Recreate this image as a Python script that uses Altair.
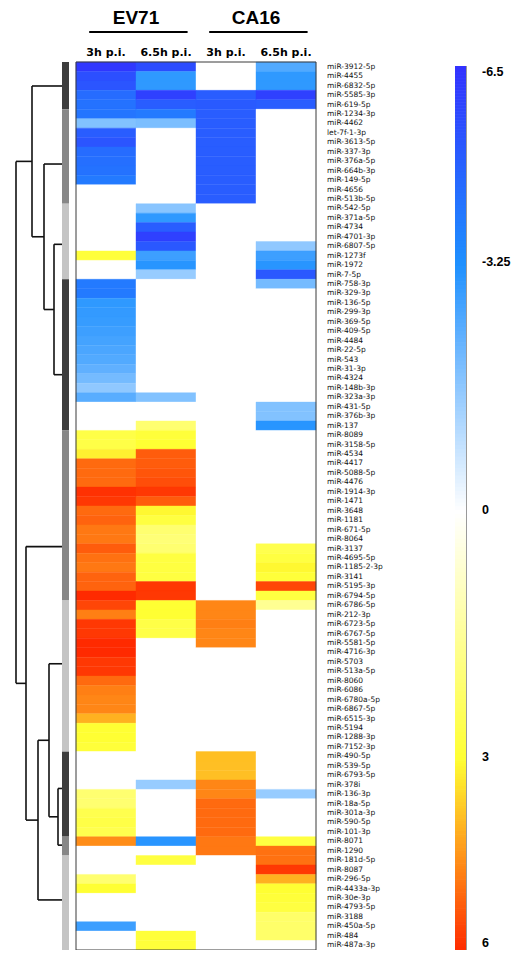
import altair as alt
import pandas as pd

# ---------------- data ----------------
mirnas = [
    "miR-3912-5p", "miR-4455", "miR-6832-5p", "miR-5585-3p", "miR-619-5p", "miR-1234-3p",
    "miR-4462", "let-7f-1-3p", "miR-3613-5p", "miR-337-3p", "miR-376a-5p", "miR-664b-3p",
    "miR-149-5p", "miR-4656", "miR-513b-5p", "miR-542-5p", "miR-371a-5p", "miR-4734",
    "miR-4701-3p", "miR-6807-5p", "miR-1273f", "miR-1972", "miR-7-5p", "miR-758-3p",
    "miR-329-3p", "miR-136-5p", "miR-299-3p", "miR-369-5p", "miR-409-5p", "miR-4484",
    "miR-22-5p", "miR-543", "miR-31-3p", "miR-4324", "miR-148b-3p", "miR-323a-3p",
    "miR-431-5p", "miR-376b-3p", "miR-137", "miR-8089", "miR-3158-5p", "miR-4534",
    "miR-4417", "miR-5088-5p", "miR-4476", "miR-1914-3p", "miR-1471", "miR-3648",
    "miR-1181", "miR-671-5p", "miR-8064", "miR-3137", "miR-4695-5p", "miR-1185-2-3p",
    "miR-3141", "miR-5195-3p", "miR-6794-5p", "miR-6786-5p", "miR-212-3p", "miR-6723-5p",
    "miR-6767-5p", "miR-5581-5p", "miR-4716-3p", "miR-5703", "miR-513a-5p", "miR-8060",
    "miR-6086", "miR-6780a-5p", "miR-6867-5p", "miR-6515-3p", "miR-5194", "miR-1288-3p",
    "miR-7152-3p", "miR-490-5p", "miR-539-5p", "miR-6793-5p", "miR-378i", "miR-136-3p",
    "miR-18a-5p", "miR-301a-3p", "miR-590-5p", "miR-101-3p", "miR-8071", "miR-1290",
    "miR-181d-5p", "miR-8087", "miR-296-5p", "miR-4433a-3p", "miR-30e-3p", "miR-4793-5p",
    "miR-3188", "miR-450a-5p", "miR-484", "miR-487a-3p",
]

ev71_3h = [
    -6.3, -5.5, -5.3, -4.5, -4.3, -4.2, -1.8, -5.0, -5.3, -4.5, -4.4, -4.3,
    -4.0, 0, 0, 0, 0, 0, 0, 0, 2.9, 0, 0, -4.0,
    -4.0, -3.0, -2.95, -2.9, -2.8, -2.7, -2.6, -2.5, -2.3, -2.0, -1.6, -2.4,
    0, 0, 0, 2.7, 2.7, 3.2, 5.1, 5.1, 5.1, 5.9, 5.8, 5.1,
    5.2, 4.9, 4.9, 5.3, 5.0, 4.9, 5.2, 5.2, 6.0, 5.6, 4.8, 5.8,
    5.8, 6.0, 6.0, 5.8, 5.8, 5.1, 4.8, 4.7, 4.7, 4.1, 3.0, 3.0,
    2.9, 0, 0, 0, 0, 2.1, 2.1, 2.6, 2.7, 2.6, 4.6, 0,
    0, 0, 2.1, 3.0, 0, 0, 0, -2.8, 0, 0,
]
ev71_65h = [
    -5.6, -3.0, -3.0, -6.0, -5.0, -4.0, -1.9, 0, 0, 0, 0, 0,
    0, 0, 0, -1.7, -3.0, -5.0, -6.0, -5.2, -2.8, -3.1, -1.5, 0,
    0, 0, 0, 0, 0, 0, 0, 0, 0, 0, 0, -1.8,
    0, 0, 2.1, 2.9, 3.0, 5.3, 5.3, 5.4, 5.5, 5.8, 5.3, 3.1,
    2.8, 2.1, 2.0, 2.1, 2.8, 2.8, 2.8, 5.8, 5.8, 3.0, 3.0, 2.7,
    2.7, 0, 0, 0, 0, 0, 0, 0, 0, 0, 0, 0,
    0, 0, 0, 0, -1.5, 0, 0, 0, 0, 0, -3.1, 0,
    2.8, 0, 0, 0, 0, 0, 0, 0, 2.9, 2.9,
]
ca16_3h = [
    0, 0, 0, -5.0, -5.1, -5.0, -5.0, -5.0, -5.0, -5.0, -5.0, -5.0,
    -5.0, -5.0, -5.0, 0, 0, 0, 0, 0, 0, 0, 0, 0,
    0, 0, 0, 0, 0, 0, 0, 0, 0, 0, 0, 0,
    0, 0, 0, 0, 0, 0, 0, 0, 0, 0, 0, 0,
    0, 0, 0, 0, 0, 0, 0, 0, 0, 4.7, 4.7, 4.8,
    4.7, 4.7, 0, 0, 0, 0, 0, 0, 0, 0, 0, 0,
    0, 3.9, 3.9, 3.9, 4.7, 4.7, 5.1, 5.1, 5.1, 5.1, 4.9, 4.9,
    0, 0, 0, 0, 0, 0, 0, 0, 0, 0,
]
ca16_65h = [
    -2.5, -3.0, -3.0, -6.0, -5.0, 0, 0, 0, 0, 0, 0, 0,
    0, 0, 0, 0, 0, 0, 0, -1.6, -2.8, -3.1, -5.2, -2.0,
    0, 0, 0, 0, 0, 0, 0, 0, 0, 0, 0, 0,
    -1.8, -1.8, -3.1, 0, 0, 0, 0, 0, 0, 0, 0, 0,
    0, 0, 0, 2.6, 2.8, 3.1, 2.9, 5.6, 2.8, 1.6, 0, 0,
    0, 0, 0, 0, 0, 0, 0, 0, 0, 0, 0, 0,
    0, 0, 0, 0, 0, -1.5, 0, 0, 0, 0, 2.8, 5.0,
    5.0, 5.8, 4.1, 3.0, 2.9, 2.8, 2.2, 2.2, 2.2, 0,
]

conditions = ["3h p.i.", "6.5h p.i.", "3h p.i.", "6.5h p.i."]
viruses = ["EV71", "CA16"]
virus_first_col = [0, 2]
virus_last_col = [1, 3]

# row clusters (leaf groups of the dendrogram)
cluster_first = [0, 5, 15, 23, 39, 57, 73, 82, 84]
cluster_last = [4, 14, 22, 38, 56, 72, 81, 83, 93]
cluster_shade = ["#3d3d3d", "#878787", "#c4c4c4", "#3d3d3d", "#878787",
                 "#c4c4c4", "#3d3d3d", "#878787", "#c4c4c4"]
cluster_anchor = [2.54, 10.8, 19.3, 33.1, 51.3, 63.7, 76.9, 82.9, 88.7]
# merges: left node, right node, merge height (nodes 0-8 are clusters)
merge_left = [6, 5, 10, 4, 2, 1, 0, 15]
merge_right = [7, 9, 8, 11, 3, 13, 14, 12]
merge_height = [4, 13, 24, 36, 8, 18, 30, 46]

scale_stops = [-6.5, -3.25, 0, 3, 6]
scale_colors = ["#3232ff", "#1e90ff", "#ffffff", "#ffff33", "#ff2a00"]
scale_labels = ["-6.5", "-3.25", "0", "3", "6"]

# ---------------- tables ----------------
n = len(mirnas)
series = [ev71_3h, ev71_65h, ca16_3h, ca16_65h]
cells = pd.DataFrame([
    {"row": r, "col": c, "value": series[c][r], "mirna": mirnas[r]}
    for c in range(len(series)) for r in range(n)
])
labels_df = pd.DataFrame({"mirna": mirnas, "row": list(range(n))})
cond_df = pd.DataFrame({"cond": conditions, "col": list(range(len(conditions)))})
virus_df = pd.DataFrame({"virus": viruses, "first": virus_first_col, "last": virus_last_col})
groups_df = pd.DataFrame({"first": cluster_first, "last": cluster_last, "shade": cluster_shade})
frame_df = pd.DataFrame({"x0": [0], "x1": [len(series)], "y0": [0], "y1": [n]})

node_y = list(cluster_anchor)
node_h = [0] * len(cluster_anchor)
segs = []
for a, b, h in zip(merge_left, merge_right, merge_height):
    segs.append({"x": h, "x2": h, "y": node_y[a], "y2": node_y[b]})
    segs.append({"x": node_h[a], "x2": h, "y": node_y[a], "y2": node_y[a]})
    segs.append({"x": node_h[b], "x2": h, "y": node_y[b], "y2": node_y[b]})
    node_y.append((node_y[a] + node_y[b]) / 2)
    node_h.append(h)
dendro_df = pd.DataFrame(segs)
bar_labels = pd.DataFrame({"v": scale_stops, "t": scale_labels})

# ---------------- scales ----------------
W, H = 503, 888
yrow = alt.Scale(domain=[0, n], reverse=True, nice=False, zero=False)
xheat = alt.Scale(domain=[-68 / 60, (W - 68) / 60], nice=False, zero=False)
xdend = alt.Scale(domain=[54 - W, 54], reverse=True, nice=False, zero=False)
ybar = alt.Scale(domain=scale_stops, range=[4, 200, 448, 695, 888], nice=False, zero=False)
cscale = alt.Scale(domain=scale_stops, range=scale_colors, interpolate="rgb")

# ---------------- layers ----------------
dendro = alt.Chart(dendro_df).mark_rule(color="#111111", strokeWidth=1.6).encode(
    x=alt.X("x:Q", scale=xdend, axis=None),
    x2="x2:Q",
    y=alt.Y("y:Q", scale=yrow, axis=None),
    y2="y2:Q",
)

groupbar = alt.Chart(groups_df).transform_calculate(
    top="datum.first", bot="datum.last + 1"
).mark_rect().encode(
    x=alt.value(54), x2=alt.value(61),
    y=alt.Y("top:Q", scale=yrow, axis=None),
    y2="bot:Q",
    color=alt.Color("shade:N", scale=None, legend=None),
)

heat = alt.Chart(cells).transform_calculate(
    c2="datum.col + 1", r2="datum.row + 1"
).mark_rect(strokeWidth=0.4).encode(
    x=alt.X("col:Q", scale=xheat, axis=None),
    x2="c2:Q",
    y=alt.Y("row:Q", scale=yrow, axis=None),
    y2="r2:Q",
    color=alt.Color("value:Q", scale=cscale, legend=None),
    stroke=alt.Stroke("value:Q", scale=cscale, legend=None),
)

frame = alt.Chart(frame_df).mark_rect(fill=None, stroke="#3a3a3a", strokeWidth=1).encode(
    x=alt.X("x0:Q", scale=xheat, axis=None), x2="x1:Q",
    y=alt.Y("y0:Q", scale=yrow, axis=None), y2="y1:Q",
)

rowlabels = alt.Chart(labels_df).transform_calculate(
    yc="datum.row + 0.5"
).mark_text(align="left", baseline="middle", font="DejaVu Sans", fontSize=7.5,
            color="#111111").encode(
    x=alt.value(319),
    y=alt.Y("yc:Q", scale=yrow, axis=None),
    text="mirna:N",
)

condtext = alt.Chart(cond_df).transform_calculate(
    xc="datum.col + 0.5"
).mark_text(align="center", baseline="alphabetic", font="DejaVu Sans", fontSize=11,
            fontWeight="bold", color="#000000").encode(
    x=alt.X("xc:Q", scale=xheat, axis=None),
    y=alt.value(-6),
    text="cond:N",
)

virustext = alt.Chart(virus_df).transform_calculate(
    xc="(datum.first + datum.last + 1) / 2"
).mark_text(align="center", baseline="alphabetic", font="Liberation Sans", fontSize=19,
            fontWeight="bold", color="#000000").encode(
    x=alt.X("xc:Q", scale=xheat, axis=None),
    y=alt.value(-38),
    text="virus:N",
)

underline = alt.Chart(virus_df).transform_calculate(
    xa="datum.first + 0.22", xb="datum.last + 0.86"
).mark_rule(color="#000000", strokeWidth=2).encode(
    x=alt.X("xa:Q", scale=xheat, axis=None), x2="xb:Q",
    y=alt.value(-30),
)

cbar = alt.Chart(alt.sequence(-6.5, 6.0, 0.05, as_="v")).transform_calculate(
    v2="datum.v + 0.06"
).mark_rect().encode(
    x=alt.value(447), x2=alt.value(458),
    y=alt.Y("v:Q", scale=ybar, axis=None),
    y2="v2:Q",
    color=alt.Color("v:Q", scale=cscale, legend=None),
)

cbar_edge = alt.Chart(pd.DataFrame({"a": [scale_stops[0]], "b": [scale_stops[-1]]})).mark_rule(
    color="#9a9a9a", strokeWidth=1
).encode(
    x=alt.value(458.5),
    y=alt.Y("a:Q", scale=ybar, axis=None), y2="b:Q",
)

def bar_text(sel, baseline):
    return alt.Chart(bar_labels).transform_filter(sel).mark_text(
        align="left", baseline=baseline, font="Liberation Sans", fontSize=12.5,
        fontWeight="bold", color="#000000"
    ).encode(
        x=alt.value(474),
        y=alt.Y("v:Q", scale=ybar, axis=None),
        text="t:N",
    )

lab_top = bar_text(f"datum.v == {scale_stops[0]}", "top")
lab_mid = bar_text(f"datum.v > {scale_stops[0]} && datum.v < {scale_stops[-1]}", "middle")
lab_bot = bar_text(f"datum.v == {scale_stops[-1]}", "bottom")

chart = alt.layer(
    heat, frame, dendro, groupbar, rowlabels, condtext, virustext, underline,
    cbar, cbar_edge, lab_top, lab_mid, lab_bot,
).resolve_scale(
    x="independent", y="independent", color="independent", stroke="independent"
).properties(
    width=W, height=H,
    padding={"left": 0, "top": 54, "right": 0, "bottom": 0},
    autosize=alt.AutoSizeParams(type="none"),
).configure_view(stroke=None)

chart.save("out.html", embed_options={"renderer": "svg", "actions": False})
